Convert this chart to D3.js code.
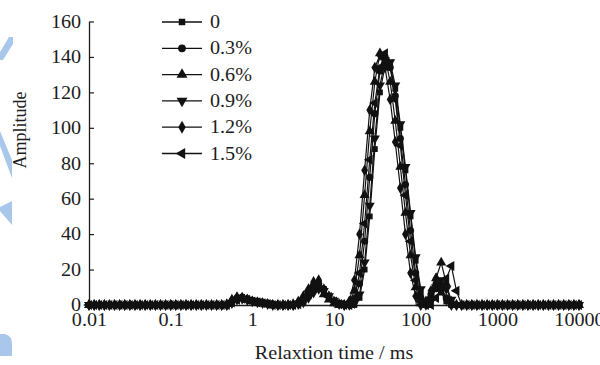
<!DOCTYPE html>
<html>
<head>
<meta charset="utf-8">
<script src="https://cdn.jsdelivr.net/npm/d3@7"></script>
<style>
  body { margin: 0; background: #fff; }
  svg { display: block; }
  text { font-family: "Liberation Serif", "Times New Roman", serif; fill: #1c1c1c; }
</style>
</head>
<body>
<div id="chart"></div>
<script>
// relaxation time grid (ms)
var times = [
  0.01, 0.01155, 0.01334, 0.0154, 0.01778, 0.02054, 0.02371, 0.02738, 0.03162, 0.03652, 0.04217, 0.0487, 0.05623, 0.06494, 0.07499, 0.0866,
  0.1, 0.1155, 0.1334, 0.154, 0.1778, 0.2054, 0.2371, 0.2738, 0.3162, 0.3652, 0.4217, 0.487, 0.5623, 0.6494, 0.7499, 0.866,
  1, 1.155, 1.334, 1.54, 1.778, 2.054, 2.371, 2.738, 3.162, 3.652, 4.217, 4.87, 5.623, 6.494, 7.499, 8.66,
  10, 11.55, 13.34, 15.4, 17.78, 20.54, 23.71, 27.38, 31.62, 36.52, 42.17, 48.7, 56.23, 64.94, 74.99, 86.6,
  100, 115.5, 133.4, 154, 177.8, 205.4, 237.1, 273.8, 316.2, 365.2, 421.7, 487, 562.3, 649.4, 749.9, 866,
  1000, 1155, 1334, 1540, 1778, 2054, 2371, 2738, 3162, 3652, 4217, 4870, 5623, 6494, 7499, 8660,
  10000
];

var labels = ["0", "0.3%", "0.6%", "0.9%", "1.2%", "1.5%"];

var amp0 = [
  0, 0, 0, 0, 0, 0, 0, 0, 0, 0, 0, 0, 0, 0, 0, 0,
  0, 0, 0, 0, 0, 0, 0, 0, 0, 0, 0, 0, 1.5, 3.5, 4, 3.5,
  2.5, 1.5, 1, 0.5, 0, 0, 0, 0, 0, 0.5, 2, 5, 10, 12, 8, 4,
  1.5, 0.5, 0, 0, 0, 4, 20, 50, 88, 120, 135, 134, 122, 100, 76, 50,
  25, 7, 0, 4, 9, 7, 2, 0, 0, 0, 0, 0, 0, 0, 0, 0,
  0, 0, 0, 0, 0, 0, 0, 0, 0, 0, 0, 0, 0, 0, 0, 0,
  0
];
var amp03 = [
  0, 0, 0, 0, 0, 0, 0, 0, 0, 0, 0, 0, 0, 0, 0, 0,
  0, 0, 0, 0, 0, 0, 0, 0, 0, 0, 0, 0, 2, 4, 4.5, 3.5,
  2.5, 2, 1, 0.5, 0, 0, 0, 0, 0, 1, 3, 7, 11, 12, 9, 5,
  2, 0.5, 0, 0, 2, 12, 36, 72, 108, 132, 140, 134, 118, 94, 68, 42,
  18, 4, 1, 6, 12, 10, 4, 0, 0, 0, 0, 0, 0, 0, 0, 0,
  0, 0, 0, 0, 0, 0, 0, 0, 0, 0, 0, 0, 0, 0, 0, 0,
  0
];
var amp06 = [
  0, 0, 0, 0, 0, 0, 0, 0, 0, 0, 0, 0, 0, 0, 0, 0,
  0, 0, 0, 0, 0, 0, 0, 0, 0, 0, 0, 0.5, 3, 4.5, 4, 3,
  2, 1.5, 1, 0.5, 0, 0, 0, 0, 0.5, 2, 5, 9, 12, 10, 6, 3,
  1, 0, 0, 1, 8, 28, 62, 98, 126, 142, 140, 126, 104, 78, 52, 28,
  10, 1, 0, 5, 15, 24, 12, 2, 0, 0, 0, 0, 0, 0, 0, 0,
  0, 0, 0, 0, 0, 0, 0, 0, 0, 0, 0, 0, 0, 0, 0, 0,
  0
];
var amp09 = [
  0, 0, 0, 0, 0, 0, 0, 0, 0, 0, 0, 0, 0, 0, 0, 0,
  0, 0, 0, 0, 0, 0, 0, 0, 0, 0, 0, 0, 1, 3, 3.5, 3,
  2.5, 2, 1.5, 1, 0.5, 0, 0, 0, 0, 0.5, 1.5, 4, 7, 9, 8, 5,
  2.5, 1, 0, 0, 1, 6, 24, 56, 94, 124, 138, 137, 124, 102, 78, 52,
  27, 9, 0, 3, 10, 14, 9, 3, 0, 0, 0, 0, 0, 0, 0, 0,
  0, 0, 0, 0, 0, 0, 0, 0, 0, 0, 0, 0, 0, 0, 0, 0,
  0
];
var amp12 = [
  0, 0, 0, 0, 0, 0, 0, 0, 0, 0, 0, 0, 0, 0, 0, 0,
  0, 0, 0, 0, 0, 0, 0, 0, 0, 0, 0, 0, 2.5, 4, 4, 3,
  2, 1.5, 1, 0.5, 0, 0, 0, 0, 0, 1, 4, 8, 13, 14, 9, 5,
  2, 0.5, 0, 2, 14, 40, 76, 110, 134, 141, 134, 116, 92, 66, 40, 18,
  5, 0, 2, 8, 15, 10, 3, 0, 0, 0, 0, 0, 0, 0, 0, 0,
  0, 0, 0, 0, 0, 0, 0, 0, 0, 0, 0, 0, 0, 0, 0, 0,
  0
];
var amp15 = [
  0, 0, 0, 0, 0, 0, 0, 0, 0, 0, 0, 0, 0, 0, 0, 0,
  0, 0, 0, 0, 0, 0, 0, 0, 0, 0, 0, 0, 1.5, 3, 3.5, 3,
  2, 1.5, 1, 0.5, 0, 0, 0, 0, 0, 0.5, 2.5, 6, 10, 11, 8, 4.5,
  2, 0.5, 0, 0, 4, 18, 46, 82, 114, 134, 142, 136, 116, 90, 62, 36,
  14, 2, 0, 0, 4, 10, 15, 22, 8, 0, 0, 0, 0, 0, 0, 0,
  0, 0, 0, 0, 0, 0, 0, 0, 0, 0, 0, 0, 0, 0, 0, 0,
  0
];

var xTicks = [0.01, 0.1, 1, 10, 100, 1000, 10000];
var yTicks = [0, 20, 40, 60, 80, 100, 120, 140, 160];

var seriesList = [amp0, amp03, amp06, amp09, amp12, amp15];
var symbols = [
  {type: d3.symbolSquare, size: 34, rot: 0},
  {type: d3.symbolCircle, size: 40, rot: 0},
  {type: d3.symbolTriangle, size: 44, rot: 0},
  {type: d3.symbolTriangle, size: 44, rot: 180},
  {type: d3.symbolDiamond, size: 40, rot: 0},
  {type: d3.symbolTriangle, size: 44, rot: -90}
];

var width = 600, height = 365;
var stretch = 1.12; // text in the scan is a bit wider than tall

var svg = d3.select("#chart")
    .append("svg")
    .attr("width", width)
    .attr("height", height);

// light blue watermark bits at the left edge
var wm = svg.append("g").attr("fill", "#a8c7ea");
wm.append("path").attr("d", "M9,37 L13,37 L13,44 L3,60 L0,60 L0,52 Z");
wm.append("path").attr("d", "M0,131 L0,146 L12,178 L12,160 Z");
wm.append("path").attr("d", "M12,201 L12,225 L0,211 L0,207 Z");
wm.append("path").attr("d", "M0,334 L5,334 Q12,336 12,344 L12,356 L0,356 Z");

var x = d3.scaleLog()
    .domain([0.01, 10000])
    .range([89, 579]);

var y = d3.scaleLinear()
    .domain([0, 160])
    .range([305, 21.5]);

// x axis
var gx = svg.append("g")
    .attr("transform", "translate(0," + y(0) + ")")
    .call(d3.axisBottom(x)
        .tickValues(xTicks)
        .tickFormat(function (d) { return String(d); })
        .tickSizeInner(-5)
        .tickSizeOuter(0)
        .tickPadding(8));

// y axis
var gy = svg.append("g")
    .attr("transform", "translate(" + x(0.01) + ",0)")
    .call(d3.axisLeft(y)
        .tickValues(yTicks)
        .tickSizeInner(-5)
        .tickSizeOuter(0)
        .tickPadding(7));

[gx, gy].forEach(function (g) {
    g.select(".domain").attr("stroke", "#1c1c1c").attr("stroke-width", 1.3);
    g.selectAll(".tick line").attr("stroke", "#1c1c1c").attr("stroke-width", 1.2);
    g.selectAll(".tick text")
        .attr("font-size", 18)
        .attr("font-family", null)
        .attr("fill", "#1c1c1c")
        .attr("transform", "scale(" + stretch + ",1)");
    g.attr("font-family", null).attr("font-size", null);
});

// series
var line = d3.line()
    .x(function (d) { return x(d[0]); })
    .y(function (d) { return y(d[1]); });

seriesList.forEach(function (amps, i) {
    var pts = times.map(function (t, j) { return [t, amps[j]]; });
    var g = svg.append("g");
    g.append("path")
        .datum(pts)
        .attr("fill", "none")
        .attr("stroke", "#111")
        .attr("stroke-width", 1.2)
        .attr("d", line);
    var sym = d3.symbol().type(symbols[i].type).size(symbols[i].size);
    g.selectAll("path.mk")
        .data(pts)
        .enter()
        .append("path")
        .attr("class", "mk")
        .attr("d", sym)
        .attr("fill", "#111")
        .attr("transform", function (d) {
            return "translate(" + x(d[0]) + "," + y(d[1]) + ") rotate(" + symbols[i].rot + ")";
        });
});

// legend
var legend = svg.append("g");
labels.forEach(function (lab, i) {
    var ly = 22 + i * 26.3;
    legend.append("line")
        .attr("x1", 162).attr("x2", 202)
        .attr("y1", ly).attr("y2", ly)
        .attr("stroke", "#111")
        .attr("stroke-width", 1.3);
    legend.append("path")
        .attr("d", d3.symbol().type(symbols[i].type).size(symbols[i].size + 8))
        .attr("fill", "#111")
        .attr("transform", "translate(182," + ly + ") rotate(" + symbols[i].rot + ")");
    legend.append("text")
        .attr("transform", "translate(210," + (ly + 6) + ") scale(" + stretch + ",1)")
        .attr("font-size", 18)
        .text(lab);
});

// axis titles
svg.append("text")
    .attr("transform", "translate(334,359) scale(" + stretch + ",1)")
    .attr("text-anchor", "middle")
    .attr("font-size", 18)
    .text("Relaxtion time / ms");

svg.append("text")
    .attr("transform", "translate(26,130) rotate(-90)")
    .attr("text-anchor", "middle")
    .attr("font-size", 18)
    .text("Amplitude");
</script>
</body>
</html>
